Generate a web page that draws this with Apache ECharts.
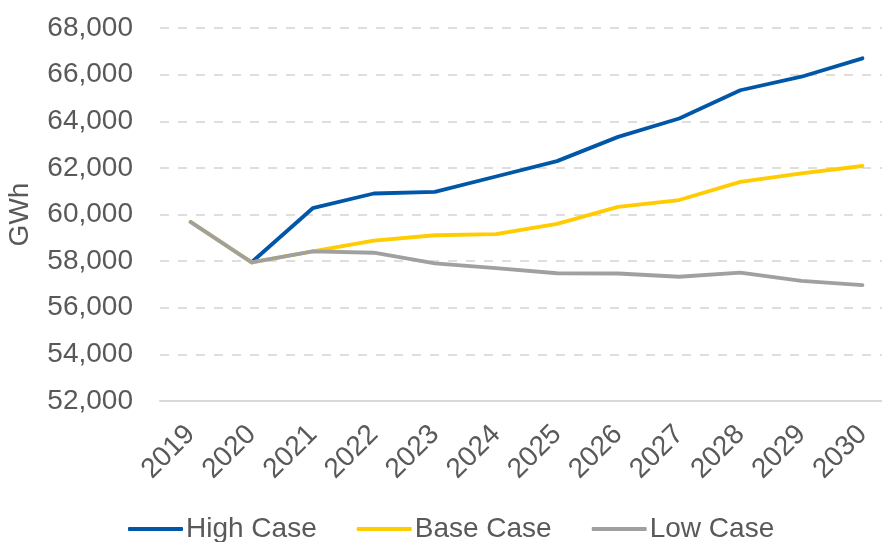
<!DOCTYPE html>
<html>
<head>
<meta charset="utf-8">
<script src="https://cdn.jsdelivr.net/npm/echarts@6/dist/echarts.min.js"></script>
<style>
    html, body { margin: 0; padding: 0; background: #fff; }
    #chart { width: 882px; height: 542px; }
</style>
</head>
<body>
<div id="chart"></div>
<script>
var chart = echarts.init(document.getElementById('chart'));
var fontColor = '#595959';
var fontName = 'Liberation Sans';

var years = ['2019', '2020', '2021', '2022', '2023', '2024', '2025', '2026', '2027', '2028', '2029', '2030'];
var highCase = [null, 57950, 60270, 60900, 60970, 61630, 62290, 63330, 64120, 65330, 65910, 66700];
var baseCase = [59680, 57950, 58420, 58880, 59110, 59160, 59600, 60330, 60620, 61400, 61760, 62080];
var lowCase = [59680, 57950, 58420, 58360, 57900, 57700, 57480, 57470, 57330, 57510, 57150, 56970];

function lineSeries(name, color, data) {
    return {
        name: name,
        type: 'line',
        data: data,
        showSymbol: false,
        symbol: 'none',
        lineStyle: {
            color: color,
            width: 3.8,
            cap: 'round',
            join: 'round'
        },
        itemStyle: { color: color },
        animation: false
    };
}

var option = {
    backgroundColor: '#fff',
    textStyle: { fontFamily: fontName },
    grid: {
        left: 160,
        top: 28,
        width: 733,
        bottom: 141,
        outerBoundsMode: 'none',
        containLabel: false
    },
    legend: {
        left: 123,
        top: 510,
        itemWidth: 55,
        itemHeight: 4,
        itemGap: 40,
        icon: 'roundRect',
        textStyle: {
            color: fontColor,
            fontSize: 28,
            fontFamily: fontName,
            padding: [0, 0, 0, -2]
        },
        data: ['High Case', 'Base Case', 'Low Case']
    },
    xAxis: {
        type: 'category',
        boundaryGap: true,
        data: years,
        axisLine: {
            show: true,
            lineStyle: { color: '#D9D9D9', width: 2 }
        },
        axisTick: { show: false },
        splitLine: { show: false },
        axisLabel: {
            rotate: 45,
            interval: 0,
            margin: 29,
            color: fontColor,
            fontSize: 28,
            fontFamily: fontName
        }
    },
    yAxis: {
        type: 'value',
        min: 52000,
        max: 68000,
        interval: 2000,
        name: 'GWh',
        nameLocation: 'middle',
        nameGap: 126,
        nameRotate: 90,
        nameTextStyle: {
            color: fontColor,
            fontSize: 28,
            fontFamily: fontName
        },
        axisLine: { show: false },
        axisTick: { show: false },
        axisLabel: {
            margin: 27,
            color: fontColor,
            fontSize: 28,
            fontFamily: fontName,
            formatter: function (v) {
                return v.toLocaleString('en-US');
            }
        },
        splitLine: {
            show: true,
            lineStyle: {
                color: '#DEDEDE',
                width: 2,
                type: [9, 9]
            }
        }
    },
    series: [
        lineSeries('High Case', '#0057A8', highCase),
        lineSeries('Base Case', '#FFCC00', baseCase),
        lineSeries('Low Case', '#A0A0A0', lowCase)
    ]
};

chart.setOption(option);
</script>
</body>
</html>
